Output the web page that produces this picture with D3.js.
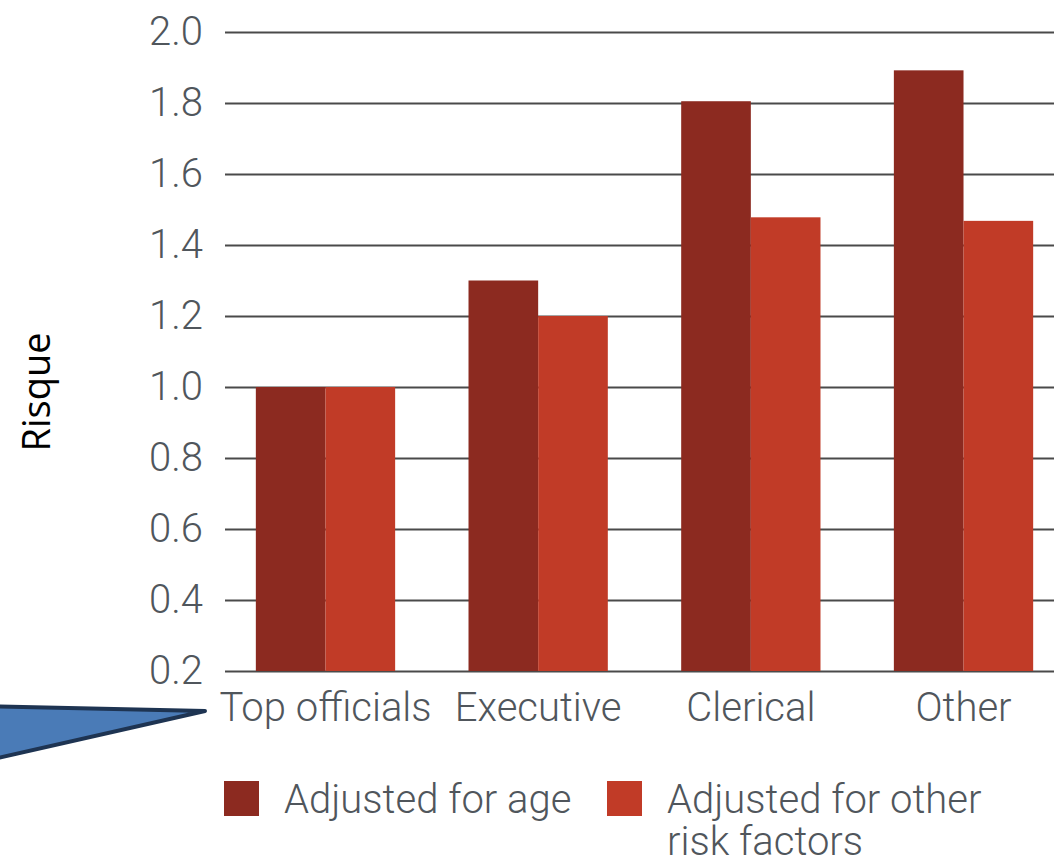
<!DOCTYPE html>
<html>
<head>
<meta charset="utf-8">
<script src="https://cdn.jsdelivr.net/npm/d3@7"></script>
<style>
  html, body { margin: 0; padding: 0; background: #fff; }
  svg { display: block; }
</style>
</head>
<body>
<svg id="chart" width="1054" height="862"></svg>
<script>
const categories = ["Top officials", "Executive", "Clerical", "Other"];
const seriesNames = ["Adjusted for age", "Adjusted for other risk factors"];
const adjustedForAge = [1.0, 1.3, 1.805, 1.892];
const adjustedForOther = [1.0, 1.2, 1.478, 1.468];
const yTicks = [0.2, 0.4, 0.6, 0.8, 1.0, 1.2, 1.4, 1.6, 1.8, 2.0];
const yLabel = "Risque";

const colors = ["#8c2a20", "#c13b27"];
const textColor = "#50565c";
const font = "Roboto, 'Liberation Sans', sans-serif";

const svg = d3.select("#chart");
const W = 1054, H = 862;

const y = d3.scaleLinear().domain([0.2, 2.0]).range([671, 32]);
const x = d3.scaleBand().domain(categories).range([225, 1064])
  .paddingInner(0.345).paddingOuter(0.145);
const xs = d3.scaleBand().domain(seriesNames).range([0, x.bandwidth()]).padding(0);

// gridlines + tick labels
const yAxis = d3.axisLeft(y).tickValues(yTicks).tickFormat(d3.format(".1f"))
  .tickSize(-(W - 225)).tickPadding(22);
const gy = svg.append("g").attr("transform", "translate(225,0)").call(yAxis);
gy.select(".domain").remove();
gy.selectAll(".tick line").attr("stroke", "#4a4a4a").attr("stroke-width", 2);
gy.selectAll(".tick text")
  .attr("fill", textColor).attr("font-family", font).attr("font-weight", 300)
  .attr("font-size", 40).attr("dy", "0.3em");

// bars
const data = categories.map((c, i) => ({ cat: c, vals: [adjustedForAge[i], adjustedForOther[i]] }));
const groups = svg.append("g").selectAll("g").data(data).join("g")
  .attr("transform", d => `translate(${x(d.cat)},0)`);
groups.selectAll("rect").data(d => d.vals.map((v, j) => ({ v, s: seriesNames[j], j })))
  .join("rect")
  .attr("x", d => xs(d.s))
  .attr("width", xs.bandwidth())
  .attr("y", d => y(d.v))
  .attr("height", d => y(0.2) - y(d.v))
  .attr("fill", d => colors[d.j]);

// category labels
const xAxis = d3.axisBottom(x).tickSize(0).tickPadding(20);
const gx = svg.append("g").attr("transform", `translate(0,${y(0.2)})`).call(xAxis);
gx.select(".domain").remove();
gx.selectAll(".tick text")
  .attr("fill", textColor).attr("font-family", font).attr("font-weight", 300)
  .attr("font-size", 40).attr("dy", "0.75em");

// y label
svg.append("text")
  .attr("transform", "translate(50,392) rotate(-90)")
  .attr("text-anchor", "middle")
  .attr("font-family", "'Open Sans', sans-serif")
  .attr("font-size", 38)
  .attr("fill", "#000")
  .text(yLabel);

// legend
const legendItems = [
  { x: 224, lines: ["Adjusted for age"] },
  { x: 607, lines: ["Adjusted for other", "risk factors"] }
];
const lg = svg.append("g");
legendItems.forEach((it, i) => {
  lg.append("rect").attr("x", it.x).attr("y", 781).attr("width", 35).attr("height", 35)
    .attr("fill", colors[i]);
  const t = lg.append("text").attr("x", it.x + 60).attr("y", 812.5)
    .attr("fill", textColor).attr("font-family", font).attr("font-weight", 300)
    .attr("font-size", 40);
  it.lines.forEach((l, k) => {
    t.append("tspan").attr("x", it.x + 60).attr("dy", k === 0 ? 0 : 42).text(l);
  });
});

// callout arrow annotation
const arrowPts = [[-20, 706], [205, 711], [-20, 762]];
svg.append("polygon")
  .attr("points", arrowPts.map(p => p.join(",")).join(" "))
  .attr("fill", "#4a7bb7")
  .attr("stroke", "#1e3452")
  .attr("stroke-width", 4)
  .attr("stroke-linejoin", "round");
</script>
</body>
</html>
